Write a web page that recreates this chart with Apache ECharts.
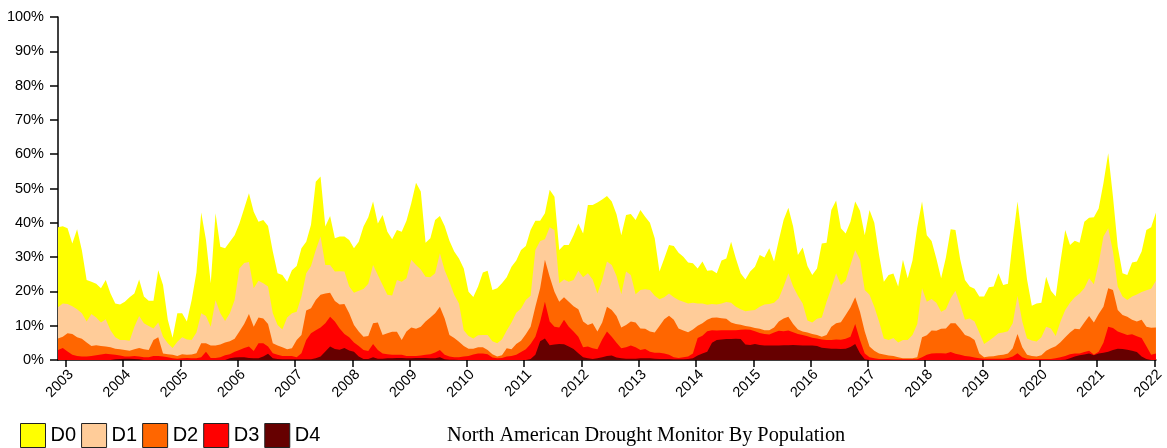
<!DOCTYPE html>
<html><head><meta charset="utf-8">
<script src="https://cdn.jsdelivr.net/npm/echarts@6/dist/echarts.min.js"></script>
<style>html,body{margin:0;padding:0;background:#fff}#c{width:1167px;height:448px}</style>
</head><body><div id="c"></div>
<script>
const months = [
"2002-11","2002-12",
"2003-01","2003-02","2003-03","2003-04","2003-05","2003-06","2003-07","2003-08","2003-09","2003-10","2003-11","2003-12",
"2004-01","2004-02","2004-03","2004-04","2004-05","2004-06","2004-07","2004-08","2004-09","2004-10","2004-11","2004-12",
"2005-01","2005-02","2005-03","2005-04","2005-05","2005-06","2005-07","2005-08","2005-09","2005-10","2005-11","2005-12",
"2006-01","2006-02","2006-03","2006-04","2006-05","2006-06","2006-07","2006-08","2006-09","2006-10","2006-11","2006-12",
"2007-01","2007-02","2007-03","2007-04","2007-05","2007-06","2007-07","2007-08","2007-09","2007-10","2007-11","2007-12",
"2008-01","2008-02","2008-03","2008-04","2008-05","2008-06","2008-07","2008-08","2008-09","2008-10","2008-11","2008-12",
"2009-01","2009-02","2009-03","2009-04","2009-05","2009-06","2009-07","2009-08","2009-09","2009-10","2009-11","2009-12",
"2010-01","2010-02","2010-03","2010-04","2010-05","2010-06","2010-07","2010-08","2010-09","2010-10","2010-11","2010-12",
"2011-01","2011-02","2011-03","2011-04","2011-05","2011-06","2011-07","2011-08","2011-09","2011-10","2011-11","2011-12",
"2012-01","2012-02","2012-03","2012-04","2012-05","2012-06","2012-07","2012-08","2012-09","2012-10","2012-11","2012-12",
"2013-01","2013-02","2013-03","2013-04","2013-05","2013-06","2013-07","2013-08","2013-09","2013-10","2013-11","2013-12",
"2014-01","2014-02","2014-03","2014-04","2014-05","2014-06","2014-07","2014-08","2014-09","2014-10","2014-11","2014-12",
"2015-01","2015-02","2015-03","2015-04","2015-05","2015-06","2015-07","2015-08","2015-09","2015-10","2015-11","2015-12",
"2016-01","2016-02","2016-03","2016-04","2016-05","2016-06","2016-07","2016-08","2016-09","2016-10","2016-11","2016-12",
"2017-01","2017-02","2017-03","2017-04","2017-05","2017-06","2017-07","2017-08","2017-09","2017-10","2017-11","2017-12",
"2018-01","2018-02","2018-03","2018-04","2018-05","2018-06","2018-07","2018-08","2018-09","2018-10","2018-11","2018-12",
"2019-01","2019-02","2019-03","2019-04","2019-05","2019-06","2019-07","2019-08","2019-09","2019-10","2019-11","2019-12",
"2020-01","2020-02","2020-03","2020-04","2020-05","2020-06","2020-07","2020-08","2020-09","2020-10","2020-11","2020-12",
"2021-01","2021-02","2021-03","2021-04","2021-05","2021-06","2021-07","2021-08","2021-09","2021-10","2021-11","2021-12",
"2022-01"
];

const D0 = [
38.7,39,38.4,34,38.1,32,23.3,22.8,22.2,20.9,
23.3,19.4,16.5,16.2,17,18.3,19.4,23.5,18.5,17.3,
17.3,26.2,21.9,11.7,6.5,13.6,13.6,11.2,17.5,25.5,
43,35,22.4,42.8,33,32.6,34.5,36.4,39.8,44.2,
48.6,43.2,40.3,40.8,39.1,31.6,25.3,24.8,22.8,26.2,
27.4,32.6,34.5,39.4,52,53.5,38.9,42,35.5,36,
36,35,32.6,34.5,38.9,41.6,46.2,39.8,42.3,37.4,
35.2,37.9,37.4,40.6,45.7,51.7,49.1,34.2,35.5,40.8,
42,39.1,34.8,31.6,29.6,26.7,19.9,18.4,21.4,25.5,
26,20.4,20.9,22.4,24.1,27.2,29,32.1,33.2,37.9,
40.6,40.6,42.8,49.6,47.6,32.1,33.5,33.5,36.4,39.8,
36.9,45.2,45.2,45.9,46.8,47.8,46.2,42.5,36.4,42.3,
42.6,40.8,43.7,41.8,40,35.5,25.8,29.6,33.5,33.2,
31.3,30.1,28.4,28.2,26.7,28.7,26,26.2,25.3,29,
29.6,34.5,29.6,25.3,23.5,25.8,27.2,30.6,29.9,32.6,
28.7,35,40.8,44.4,38.9,30.6,32.8,27.4,24.8,26.7,
34,34.2,43.7,46.5,38.4,36.9,40.3,46.2,43.5,36.4,
43.7,40,30.6,22.8,24.8,25.2,21.4,29.2,23.8,29,
38.7,46.2,36.4,34.7,29.6,23.8,29.9,38.1,37.9,29.3,
23.3,21.4,20.8,18.5,18.5,21.2,21.4,25.3,21.9,22.2,
35,46.2,35,23.5,15.8,16.5,16.7,24.3,20.2,18.5,
28.7,37.9,33.5,34.8,34.2,40.3,41.5,41.6,44.2,51.5,
60.3,47.6,33,25.3,24.8,28.4,28.7,31.6,37.9,38.7,43
];

const D1 = [
15.4,16.5,16.3,15.7,14.8,13.6,11.2,13.4,12.4,10.9,
11.9,8.7,6.6,5.8,5.8,5.6,9.7,12.8,10.7,9.9,
9.2,10.9,6.8,4.9,3.5,5.3,6.6,6.0,5.8,8,
13.6,12.8,9.7,17.5,13.6,11.4,13.6,17.5,26.7,28.3,
28.6,20.9,23.1,22.4,21.4,13.6,10.2,8.9,12.4,13.6,
14.1,18.5,25.3,27.4,32.1,36,27.7,27.7,25.8,25.9,
25.8,21.4,19.6,20.2,20.7,22.2,27.7,24.8,21.9,19,
18.8,23.3,22.8,23.8,29.2,27.7,26.4,24.3,24.1,25.3,
31.1,26.2,22.8,19,16.5,8.7,7.0,6.3,7.2,7.3,
7.3,5.5,4.9,6.0,8.6,10.9,13.8,15,17.5,18.7,
32.1,34.7,35.2,38.7,37.9,22.4,23.5,22.8,23.3,26,
24.1,25.3,23.5,19.4,23.3,28.7,27.7,24.5,19.2,25.8,
24.8,19.2,20.4,20.6,20.4,18.7,17.7,18.3,19.4,18.3,
17.5,17,16.5,16.7,16.5,16.5,16.1,16.3,16.2,16.5,
16.9,16.7,15.5,14.8,14.2,14.4,14.6,15.5,16.2,16.3,
16.7,18,21.4,25.3,21.4,18.7,16.5,11.5,10.9,12,
12.4,17,20.9,25.3,21.9,23.1,27.7,32.1,29.2,20.4,
19,15.5,11.2,6.3,5.8,6.4,5.1,5.8,5.8,7.3,
10.5,20.9,17,17.8,16.7,14.1,14.8,18,20.2,16.2,
11.7,12.1,11.2,8,4.7,5.6,6.6,7.8,8,8.4,
10.7,18.7,11.2,6.3,5.7,5.4,6.6,9.7,9.2,7.0,
11.2,14.6,16.7,18.3,19.4,20.9,23.8,22.1,28.2,36,
38.4,31.6,21.4,18.5,17.5,18.5,19.1,19.8,20.3,20.8,23.1
];

const D2 = [
6.3,6.8,7.8,7.6,6.6,6.2,5.1,4.1,4.3,4.1,
3.9,3.7,3.3,3.1,2.9,2.7,3.1,3.5,3.1,2.9,
5.8,6.6,1.9,1.7,1.5,1.2,1.7,1.5,1.6,2,
4.9,4.9,4.2,4.2,4.5,5.1,5.5,6.2,8.3,10.5,
13.4,9.7,12.4,12.1,10.5,4.9,4.2,3.7,3.1,3.4,
5.8,7.3,14.4,15.1,17.5,19,19.4,19.6,17.2,16.2,
16.3,13.6,10.2,8.3,6.8,7.0,10.7,10.9,7.3,7.8,
8.2,8.2,5.8,8.3,9.5,9.1,9.7,11.2,12.4,13.6,
15.5,12.1,7.3,6.4,5.3,4.1,3.3,3.3,3.7,3.7,
2.9,1.7,1.0,1.4,3.4,3.1,4.7,5.6,7.5,9.7,
15.5,20.9,29.2,24.3,19.9,17,18.3,17,15.7,14.8,
11.2,10.2,10.7,8.3,10.9,15.5,14.6,12.8,9.5,10.2,
11.2,10.9,9.2,9.1,8.3,8.0,9.9,11.9,12.9,11.7,
9.2,8.6,8.1,8.9,10,10.7,11.7,12.3,12.4,12.2,
12,10.9,10.5,10.3,9.9,9.7,9.3,9.1,8.7,8.7,
9.5,11.2,12.1,12.6,10.5,8.9,8.3,8,7.6,7.3,
6.8,7.3,9.7,10.7,11,13.1,15.3,18.3,14.1,8.3,
3.9,2.7,1.9,1.6,1.3,1.2,0.8,0.5,0.5,0.5,
0.8,6.6,7.2,8.6,8.5,9.1,9.2,10.7,10.7,9.1,
7.3,6.8,5.8,1.9,0.8,1.0,1.1,1.4,1.5,1.9,
3.4,7.6,3.7,1.5,1.2,1.0,1.4,2.7,3.4,4.0,
5.2,6.6,8.0,9.1,9.0,10.9,12.8,10.9,13.4,15.5,
20.9,20.4,14.6,13.1,12.6,11.7,11.2,11.7,9.7,9.4,9.5
];

const D3 = [
2.9,3.5,2.5,1.5,1.2,1.0,1.0,1.2,1.4,1.6,
1.8,1.7,1.5,1.3,1.0,1.0,1.2,1.0,0.8,0.8,
1.2,1.2,1.0,0.8,0.5,0.4,0.5,0.6,0.5,0.5,
0.8,2.4,0.6,0.6,0.8,1.4,1.7,2.4,2.9,3.5,
3.9,2.6,4.9,4.9,3.9,2.0,1.5,1.2,1.2,1.2,
0.8,2.0,5.8,7.8,8.7,9.5,10.7,12.6,11.2,9.2,
7.6,6.6,5.1,4.1,2.9,2.6,4.7,2.9,1.9,1.7,
1.5,1.5,1.5,1.2,1.2,1.2,1.3,1.5,1.7,2.2,
2.9,1.5,1.0,0.8,0.8,1.0,1.2,1.6,1.9,1.9,
1.7,0.7,0.5,0.6,1.0,1.2,1.5,2.3,3.1,4.7,
6.8,11.2,17,11.2,9.7,9.5,11.7,9.7,8.3,6.8,
3.7,3.9,3.4,3.1,6.0,8.3,6.8,5.0,3.4,3.7,
4.2,3.7,2.9,3.2,2.4,2.1,2.1,1.9,1.5,0.8,
0.6,0.8,1.0,1.9,6.4,7.1,8.4,8.7,8.6,8.7,
8.7,8.7,8.7,8.8,8.9,8.8,8.4,7.9,7.6,7.4,
8,8.5,8.4,8.6,8.1,7.6,7.3,6.9,6.5,6.3,
6.0,5.8,5.8,6.0,5.9,6.2,6.8,10.5,5.8,1.9,
0.8,0.5,0.3,0.3,0.3,0.2,0.2,0.2,0.2,0.2,
0.2,0.8,1.5,1.9,2.0,2.0,1.9,2.3,1.8,1.5,
1.2,1.0,0.7,0.5,0.4,0.4,0.4,0.4,0.4,0.6,
1.0,2.0,0.8,0.4,0.3,0.3,0.3,0.3,0.3,0.5,
0.8,1.2,1.7,1.9,1.9,2.3,2.7,1.5,2.4,5.0,
9.7,9.3,8.3,7.8,7.3,7.5,6.9,6.4,4.0,1.5,1.9
];

const D4 = [
0,0,0,0,0,0,0,0,0,0,
0,0,0.2,0.3,0.4,0.4,0.3,0.2,0,0,
0,0,0,0,0,0,0,0,0,0,
0,0,0,0,0,0,0.5,0.7,0.8,0.8,
0.6,0.5,0.5,1.0,1.8,0.5,0.3,0.2,0.2,0.2,
0.2,0.2,0.2,0.2,0.5,1.0,2.5,3.9,3.2,3.0,
3.5,2.8,2.4,1.0,0.3,0.3,0.8,0.4,0.4,0.5,
0.5,0.6,0.6,0.5,0.5,0.6,0.6,0.6,0.5,0.5,
0.8,0.2,0.1,0.1,0,0,0,0,0,0,
0,0,0,0,0,0,0,0,0,0.3,
1.5,5.5,6.3,4.3,4.5,4.7,4.6,3.9,3.2,2.0,
0.8,0.5,0.3,0.5,0.8,1.2,1.3,0.7,0.5,0.4,
0.4,0.4,0.5,0.5,0.5,0.4,0.3,0.3,0.3,0.2,
0.2,0.2,0.3,0.5,1.3,1.9,2.4,5.0,5.8,6.0,
6.1,6.1,6.2,6.1,4.5,4.4,4.7,4.4,4.2,4.2,
4.2,4.2,4.3,4.3,4.4,4.3,4.2,4.2,4.2,4.1,
3.6,3.4,3.3,3.3,3.2,3.3,3.8,4.7,2.0,0.2,
0,0,0,0,0,0,0,0,0,0,
0,0,0,0,0,0,0,0,0,0,
0,0,0,0,0,0,0,0,0,0,
0,0,0,0,0,0,0,0,0,0,
0,0.1,0.5,1.0,1.4,1.6,1.9,1.4,1.9,2.1,
2.4,2.9,3.3,3.2,3.0,2.7,2.3,1.0,0.3,0,0
];

const yearTicks = [2003,2004,2005,2006,2007,2008,2009,2010,2011,2012,2013,2014,2015,2016,2017,2018,2019,2020,2021,2022];
const seriesNames = ['D0','D1','D2','D3','D4'];
const colors = ['#FFFF00','#FFCC99','#FF6600','#FF0000','#660000'];
const chartTitle = 'North American Drought Monitor By Population';

function monthPos(s){ const p = s.split('-'); return Number(p[0]) + (Number(p[1]) - 0.65) / 12; }
const xs = months.map(monthPos);
const values = [D0, D1, D2, D3, D4];
const sansFont = '"Liberation Sans", Arial, sans-serif';

const chart = echarts.init(document.getElementById('c'), null, {renderer: 'canvas'});
chart.setOption({
  animation: false,
  backgroundColor: '#ffffff',
  title: {
    text: chartTitle, left: 447, top: 426, padding: 0,
    textStyle: {fontFamily: '"Liberation Serif", "Times New Roman", serif', fontSize: 20.3, fontWeight: 'normal', color: '#000'}
  },
  legend: {
    left: 20, top: 423, padding: 0, itemWidth: 25, itemHeight: 24, itemGap: 5, icon: 'rect',
    selectedMode: false,
    textStyle: {fontFamily: sansFont, fontSize: 20, color: '#000'},
    itemStyle: {borderColor: '#222', borderWidth: 1},
    data: seriesNames
  },
  grid: {left: 58, right: 7, top: 17, bottom: 88},
  xAxis: {
    type: 'value', min: 'dataMin', max: 'dataMax',
    axisLine: {show: true, lineStyle: {color: '#000', width: 1.5}},
    axisTick: {show: true, length: 7, customValues: yearTicks, lineStyle: {color: '#000', width: 1.5}},
    axisLabel: {customValues: yearTicks, rotate: 45, verticalAlign: 'top', fontSize: 14.5, fontFamily: sansFont, color: '#000', margin: 7, formatter: v => String(Math.round(v))},
    splitLine: {show: false}
  },
  yAxis: {
    type: 'value', min: 0, max: 100, interval: 10,
    axisLine: {show: true, lineStyle: {color: '#000', width: 1.5}},
    axisTick: {show: true, length: 8, lineStyle: {color: '#000', width: 1.5}},
    axisLabel: {formatter: '{value}%', fontSize: 14.5, fontFamily: sansFont, color: '#000', margin: 14},
    splitLine: {show: false}
  },
  series: values.map((d, i) => ({
    name: seriesNames[i], type: 'line',
    data: d.map((v, j) => [xs[j], v]),
    showSymbol: false, symbol: 'none',
    lineStyle: {width: 0},
    itemStyle: {color: colors[i]},
    areaStyle: {color: colors[i], opacity: 1},
    z: 2 + i
  }))
});
</script>
</body></html>
